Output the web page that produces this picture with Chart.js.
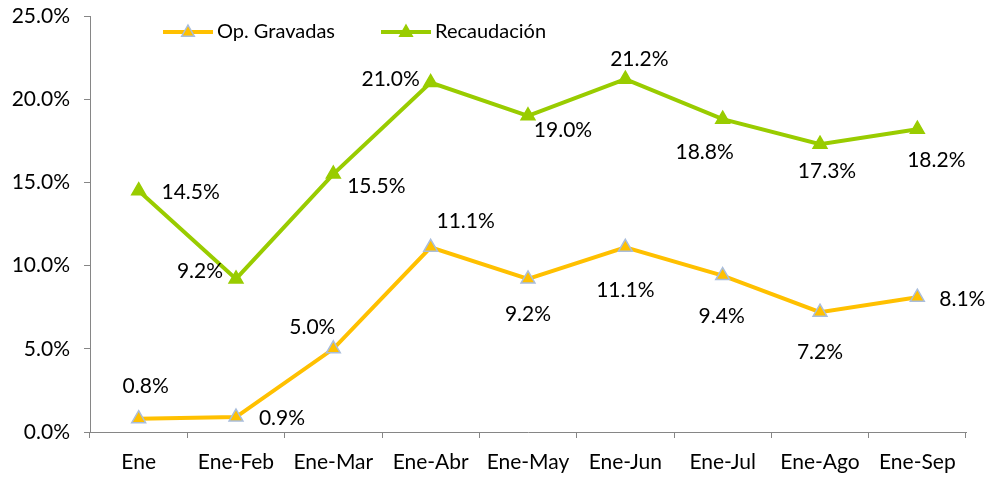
<!DOCTYPE html>
<html lang="es">
<head>
    <meta charset="UTF-8">
    <title>Op. Gravadas y Recaudación</title>
    <style>
        body {
            margin: 0;
            background-color: #ffffff;
        }
        #wrap {
            width: 990px;
            height: 487px;
        }
    </style>
    <script src="https://cdn.jsdelivr.net/npm/chart.js"></script>
</head>
<body>
    <div id="wrap"><canvas id="chart" width="990" height="487"></canvas></div>
    <script>
        const months = ['Ene', 'Ene-Feb', 'Ene-Mar', 'Ene-Abr', 'Ene-May', 'Ene-Jun', 'Ene-Jul', 'Ene-Ago', 'Ene-Sep'];
        const opGravadas = [0.8, 0.9, 5.0, 11.1, 9.2, 11.1, 9.4, 7.2, 8.1];
        const recaudacion = [14.5, 9.2, 15.5, 21.0, 19.0, 21.2, 18.8, 17.3, 18.2];
        const yTicks = [0, 5, 10, 15, 20, 25];

        // where each value label sits, relative to its point (px)
        const opLabelShift = [[7, -32], [46, 1], [-21, -22], [35, -26], [0, 35], [0, 43], [-1, 41], [0, 40], [45, 2]];
        const recLabelShift = [[52, 2], [-36, -8], [43, 12], [-40, -3], [35, 14], [14, -20], [-18, 33], [7, 27], [19, 31]];

        const FONT = 'Lato, "Open Sans", sans-serif';
        const ORANGE = '#FFC000';
        const GREEN = '#99CC00';
        const AXIS = '#868686';

        function triangle(ctx, x, y, r, fill, stroke) {
            ctx.beginPath();
            ctx.moveTo(x, y - r);
            ctx.lineTo(x + r * 0.9, y + r * 0.6);
            ctx.lineTo(x - r * 0.9, y + r * 0.6);
            ctx.closePath();
            ctx.fillStyle = fill;
            ctx.fill();
            ctx.lineWidth = 1.5;
            ctx.strokeStyle = stroke;
            ctx.stroke();
        }

        const valueLabels = {
            id: 'valueLabels',
            afterDatasetsDraw(chart) {
                const ctx = chart.ctx;
                ctx.save();
                ctx.font = '21px ' + FONT;
                ctx.fillStyle = '#000';
                ctx.textAlign = 'center';
                ctx.textBaseline = 'middle';
                const shifts = [opLabelShift, recLabelShift];
                chart.data.datasets.forEach((ds, i) => {
                    chart.getDatasetMeta(i).data.forEach((pt, j) => {
                        const s = shifts[i][j];
                        ctx.fillText(ds.data[j].toFixed(1) + '%', pt.x + s[0], pt.y + s[1]);
                    });
                });
                ctx.restore();
            }
        };

        const lineLegend = {
            id: 'lineLegend',
            afterDraw(chart) {
                const ctx = chart.ctx;
                const items = [
                    { x: 163, text: 'Op. Gravadas', color: ORANGE, border: '#A9BDDB' },
                    { x: 381, text: 'Recaudación', color: GREEN, border: GREEN }
                ];
                const y = 32;
                ctx.save();
                items.forEach(it => {
                    ctx.beginPath();
                    ctx.moveTo(it.x, y);
                    ctx.lineTo(it.x + 50, y);
                    ctx.lineWidth = 4;
                    ctx.strokeStyle = it.color;
                    ctx.stroke();
                    triangle(ctx, it.x + 25, y, 7, it.color, it.border);
                    ctx.font = '20px ' + FONT;
                    ctx.fillStyle = '#000';
                    ctx.textAlign = 'left';
                    ctx.textBaseline = 'middle';
                    ctx.fillText(it.text, it.x + 54, y);
                });
                ctx.restore();
            }
        };

        const ctx = document.getElementById('chart').getContext('2d');
        const chart = new Chart(ctx, {
            type: 'line',
            data: {
                labels: months,
                datasets: [{
                    label: 'Op. Gravadas',
                    data: opGravadas,
                    borderColor: ORANGE,
                    borderWidth: 4,
                    pointStyle: 'triangle',
                    pointRadius: 8,
                    pointBackgroundColor: ORANGE,
                    pointBorderColor: '#A9BDDB',
                    pointBorderWidth: 1.5,
                    tension: 0
                }, {
                    label: 'Recaudación',
                    data: recaudacion,
                    borderColor: GREEN,
                    borderWidth: 4,
                    pointStyle: 'triangle',
                    pointRadius: 8,
                    pointBackgroundColor: GREEN,
                    pointBorderColor: GREEN,
                    pointBorderWidth: 1.5,
                    tension: 0
                }]
            },
            options: {
                responsive: false,
                animation: false,
                layout: {
                    padding: { top: 16, right: 24, left: 0, bottom: 0 }
                },
                scales: {
                    x: {
                        offset: true,
                        grid: {
                            offset: true,
                            drawOnChartArea: false,
                            drawTicks: true,
                            tickLength: 6,
                            tickColor: AXIS
                        },
                        border: { color: AXIS, width: 1 },
                        ticks: {
                            color: '#000',
                            padding: 12,
                            maxRotation: 0,
                            autoSkip: false,
                            font: { family: FONT, size: 21 }
                        },
                        afterFit(axis) {
                            axis.height = 55;
                            axis.paddingLeft = 0;
                            axis.paddingRight = 0;
                        }
                    },
                    y: {
                        min: 0,
                        max: 25,
                        afterBuildTicks(axis) {
                            axis.ticks = yTicks.map(v => ({ value: v }));
                        },
                        grid: {
                            drawOnChartArea: false,
                            drawTicks: true,
                            tickLength: 6,
                            tickColor: AXIS
                        },
                        border: { color: AXIS, width: 1 },
                        ticks: {
                            color: '#000',
                            padding: 14,
                            font: { family: FONT, size: 21 },
                            callback: v => v.toFixed(1) + '%'
                        },
                        afterFit(axis) {
                            axis.width = 90;
                            axis.paddingTop = 0;
                            axis.paddingBottom = 0;
                        }
                    }
                },
                plugins: {
                    legend: { display: false },
                    tooltip: { enabled: false }
                }
            },
            plugins: [valueLabels, lineLegend]
        });
    </script>
</body>
</html>
